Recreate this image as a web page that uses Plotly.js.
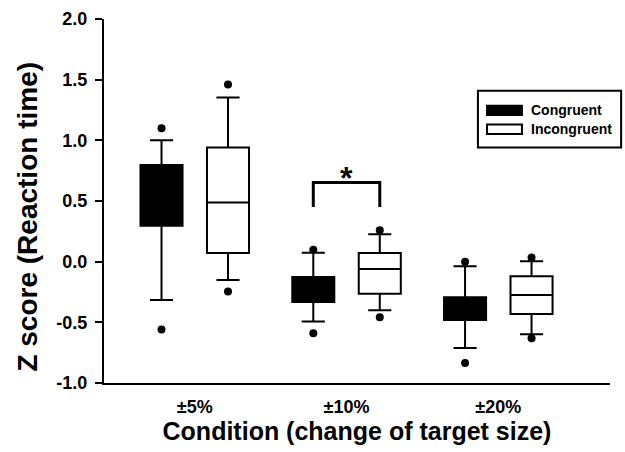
<!DOCTYPE html>
<html>
<head>
<meta charset="utf-8">
<script src="https://cdn.plot.ly/plotly-3.0.1.min.js"></script>
<style>html,body{margin:0;padding:0;background:#fff;}#chart{width:625px;height:452px;}</style>
</head>
<body>
<div id="chart"></div>
<script>
// ---- data ----
var categories = ['±5%', '±10%', '±20%'];
var seriesNames = ['Congruent', 'Incongruent'];

var congQ1     = [0.297, -0.332, -0.480];
var congMedian = [0.550, -0.230, -0.390];
var congQ3     = [0.797, -0.126, -0.294];
var congLow    = [-0.316, -0.494, -0.711];
var congHigh   = [1.000, 0.074, -0.038];
var congOutHi  = [1.100, 0.099, 0.000];
var congOutLo  = [-0.560, -0.590, -0.835];

var incQ1      = [0.072, -0.264, -0.431];
var incMedian  = [0.488, -0.060, -0.274];
var incQ3      = [0.940, 0.072, -0.121];
var incLow     = [-0.151, -0.401, -0.599];
var incHigh    = [1.353, 0.225, 0.003];
var incOutHi   = [1.460, 0.258, 0.035];
var incOutLo   = [-0.245, -0.459, -0.632];

var yTickVals   = [-1.0, -0.5, 0.0, 0.5, 1.0, 1.5, 2.0];
var yTickLabels = ['-1.0', '-0.5', '0.0', '0.5', '1.0', '1.5', '2.0'];

// significance bracket between Congruent and Incongruent at ±10%
var sigCategory = 1;
var sigTop = 0.653, sigLegBottom = 0.45;
var sigLabel = '*';

// ---- layout helpers ----
var offset = 0.219, boxW = 0.277;
var catIdx = categories.map(function(c, i){ return i; });
var xCong = catIdx.map(function(i){ return i - offset; });
var xInc  = catIdx.map(function(i){ return i + offset; });
var fills = ['#000', '#fff'];

var FONT = 'Liberation Sans, Arial, Helvetica, sans-serif';
function bold(s){ return '<b>' + s + '</b>'; }

function boxTrace(name, xs, q1, med, q3, lo, hi, fill) {
  return {
    type: 'box', name: name, x: xs, showlegend: false,
    q1: q1, median: med, q3: q3, lowerfence: lo, upperfence: hi,
    width: boxW, whiskerwidth: 0.55,
    fillcolor: fill, line: {color: '#000', width: 2},
    boxpoints: false, hoverinfo: 'skip'
  };
}
function outTrace(xs, ys) {
  return {
    type: 'scatter', mode: 'markers', x: xs, y: ys, showlegend: false,
    marker: {color: '#000', size: 8}, hoverinfo: 'skip'
  };
}

var data = [
  boxTrace(seriesNames[0], xCong, congQ1, congMedian, congQ3, congLow, congHigh, fills[0]),
  boxTrace(seriesNames[1], xInc, incQ1, incMedian, incQ3, incLow, incHigh, fills[1]),
  outTrace(xCong, congOutHi), outTrace(xCong, congOutLo),
  outTrace(xInc, incOutHi), outTrace(xInc, incOutLo),
  {
    type: 'scatter', mode: 'lines', showlegend: false, hoverinfo: 'skip',
    x: [xCong[sigCategory], xCong[sigCategory], xInc[sigCategory], xInc[sigCategory]],
    y: [sigLegBottom, sigTop, sigTop, sigLegBottom],
    line: {color: '#000', width: 3}
  }
];

// custom legend (wide swatches), paper coordinates
var legBox = {x0: 0.739, x1: 1.022, y0: 0.647, y1: 0.803};
var legRows = [0.749, 0.697];
var shapes = [
  {type: 'rect', xref: 'paper', yref: 'paper', x0: legBox.x0, x1: legBox.x1, y0: legBox.y0, y1: legBox.y1,
   line: {color: '#000', width: 2}, fillcolor: '#fff'}
];
var legAnn = [];
seriesNames.forEach(function(n, i){
  shapes.push({type: 'rect', xref: 'paper', yref: 'paper',
    x0: 0.757, x1: 0.826, y0: legRows[i] - 0.013, y1: legRows[i] + 0.013,
    line: {color: '#000', width: 2}, fillcolor: fills[i]});
  legAnn.push({text: bold(n), xref: 'paper', yref: 'paper', x: 0.840, y: legRows[i],
    xanchor: 'left', yanchor: 'middle', showarrow: false,
    font: {family: FONT, size: 14, color: '#000'}});
});

var layout = {
  width: 625, height: 452,
  margin: {l: 104, r: 15, t: 19, b: 69},
  paper_bgcolor: '#fff', plot_bgcolor: '#fff',
  font: {family: FONT, color: '#000'},
  showlegend: false,
  xaxis: {
    range: [-0.598, 2.736],
    tickvals: catIdx, ticktext: categories.map(bold),
    showline: true, linecolor: '#000', linewidth: 2,
    ticks: '', showgrid: false, zeroline: false,
    tickfont: {family: FONT, size: 18, color: '#000'},
    ticklabelstandoff: 6,
    title: {text: bold('Condition (change of target size)'), font: {family: FONT, size: 25, color: '#000'}, standoff: 4}
  },
  yaxis: {
    range: [-1, 2],
    tickvals: yTickVals, ticktext: yTickLabels.map(bold),
    showline: true, linecolor: '#000', linewidth: 2,
    ticks: 'outside', ticklen: 7, tickwidth: 2, tickcolor: '#000',
    ticklabelstandoff: 4,
    showgrid: false, zeroline: false,
    tickfont: {family: FONT, size: 18, color: '#000'}
  },
  shapes: shapes,
  annotations: [
    {
      text: bold('Z score (Reaction time)'), textangle: -90,
      xref: 'paper', yref: 'paper', x: -0.153, y: 0.456,
      xanchor: 'center', yanchor: 'middle', showarrow: false,
      font: {family: FONT, size: 28, color: '#000'}
    },
    {
      text: bold(sigLabel), xref: 'x', yref: 'y',
      x: (xCong[sigCategory] + xInc[sigCategory]) / 2, y: sigTop,
      yanchor: 'bottom', showarrow: false, yshift: -16,
      font: {family: FONT, size: 32, color: '#000'}
    }
  ].concat(legAnn)
};

Plotly.newPlot('chart', data, layout, {staticPlot: true, displayModeBar: false});
</script>
</body>
</html>
